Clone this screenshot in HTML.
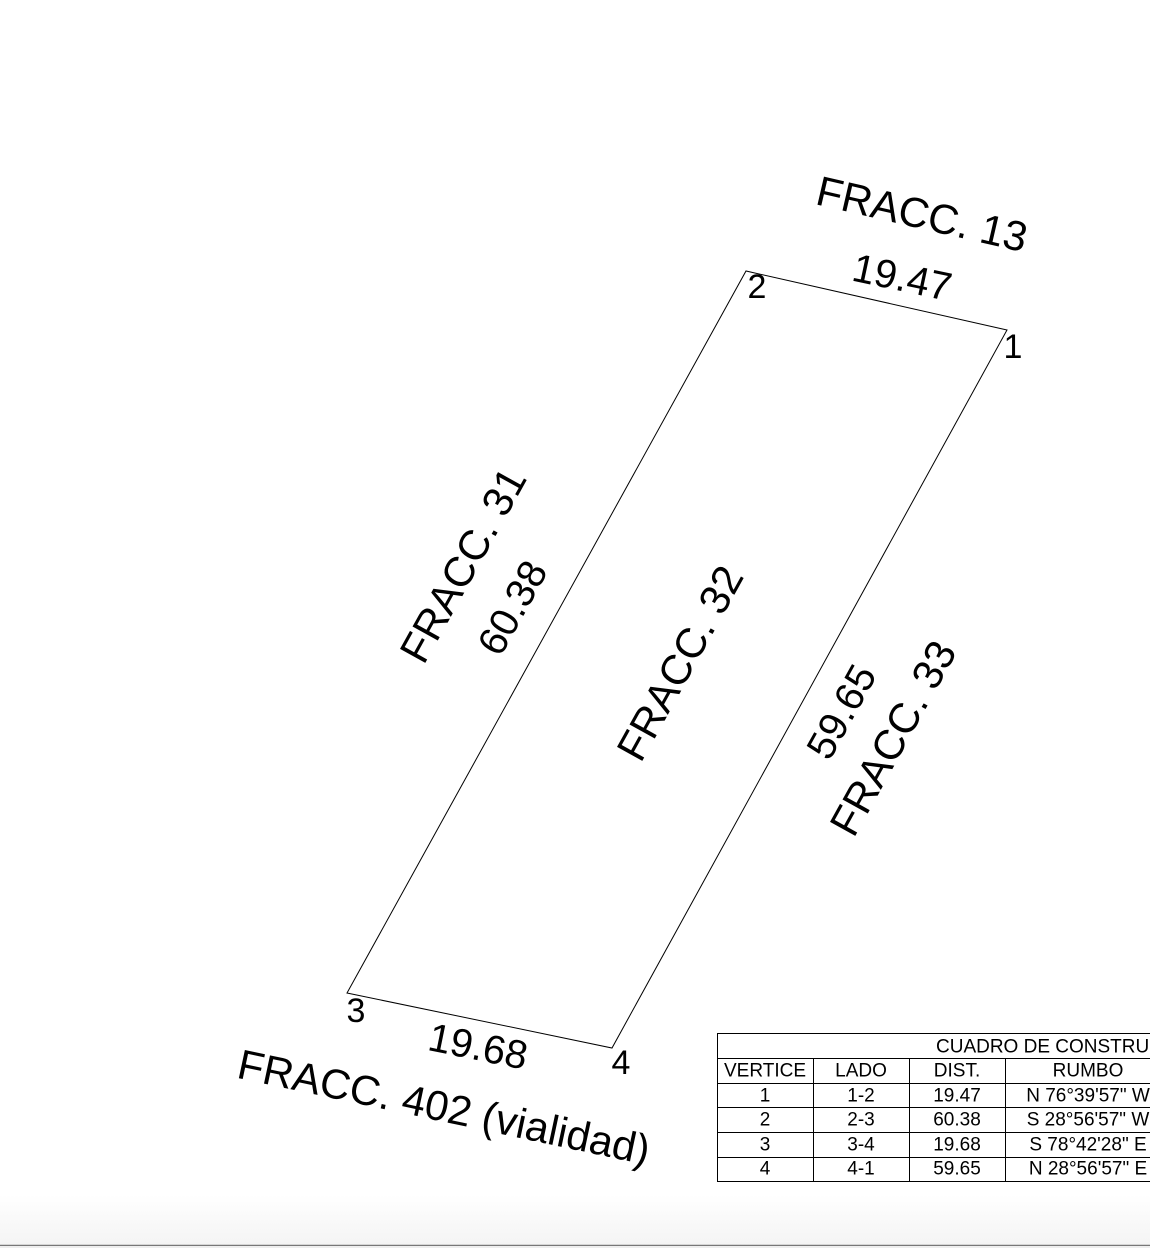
<!DOCTYPE html>
<html><head><meta charset="utf-8"><style>
html,body{margin:0;padding:0;background:#fff;}
body{width:1150px;height:1248px;overflow:hidden;position:relative;font-family:"Liberation Sans",sans-serif;}
svg{position:absolute;left:0;top:0;}
text{font-family:"Liberation Sans",sans-serif;fill:#000;}
</style></head><body>
<svg width="1150" height="1248" viewBox="0 0 1150 1248">
<defs><linearGradient id="g" x1="0" y1="0" x2="0" y2="1"><stop offset="0" stop-color="#fff"/><stop offset="1" stop-color="#f4f4f4"/></linearGradient></defs>
<rect x="0" y="1195" width="1150" height="50" fill="url(#g)"/>
<line x1="0" y1="1245.5" x2="1150" y2="1245.5" stroke="#777" stroke-width="1.5"/>
<rect x="0" y="1246" width="1150" height="2" fill="#eee"/>
<polygon points="1007,330 746,271 347,993 612,1048" fill="none" stroke="#000" stroke-width="1"/>
<g font-size="42" text-anchor="middle" dominant-baseline="central">
<text transform="translate(922,214) rotate(13)">FRACC. 13</text>
<text transform="translate(463,565) rotate(-61)">FRACC. 31</text>
<text transform="translate(680,663) rotate(-61)">FRACC. 32</text>
<text transform="translate(893,738) rotate(-61)">FRACC. 33</text>
<text transform="translate(444,1107) rotate(12)">FRACC. 402 (vialidad)</text>
</g>
<g font-size="40" text-anchor="middle" dominant-baseline="central">
<text transform="translate(902,278) rotate(12)">19.47</text>
<text transform="translate(513,608) rotate(-61)">60.38</text>
<text transform="translate(842,712) rotate(-61)">59.65</text>
<text transform="translate(478,1047) rotate(11.5)">19.68</text>
</g>
<g font-size="34" text-anchor="middle" dominant-baseline="central">
<text x="757" y="287">2</text>
<text x="1013" y="347">1</text>
<text x="356" y="1011">3</text>
<text x="621" y="1063">4</text>
</g>
<g stroke="#000" stroke-width="1" fill="none">
<rect x="717.5" y="1033.5" width="440" height="148"/>
<line x1="717" y1="1058.5" x2="1150" y2="1058.5"/>
<line x1="717" y1="1083.5" x2="1150" y2="1083.5"/>
<line x1="717" y1="1107.5" x2="1150" y2="1107.5"/>
<line x1="717" y1="1132.5" x2="1150" y2="1132.5"/>
<line x1="717" y1="1157.5" x2="1150" y2="1157.5"/>
<line x1="813.5" y1="1058" x2="813.5" y2="1181"/>
<line x1="909.5" y1="1058" x2="909.5" y2="1181"/>
<line x1="1005.5" y1="1058" x2="1005.5" y2="1181"/>
</g>
<g font-size="19" text-anchor="middle" dominant-baseline="central">
<text x="936" y="1047" text-anchor="start">CUADRO DE CONSTRUCCION</text>
<text x="765" y="1071">VERTICE</text><text x="861" y="1071">LADO</text><text x="957" y="1071">DIST.</text><text x="1088" y="1071">RUMBO</text>
<text x="765" y="1096">1</text><text x="861" y="1096">1-2</text><text x="957" y="1096">19.47</text><text x="1088" y="1096">N 76°39'57" W</text>
<text x="765" y="1120">2</text><text x="861" y="1120">2-3</text><text x="957" y="1120">60.38</text><text x="1088" y="1120">S 28°56'57" W</text>
<text x="765" y="1145">3</text><text x="861" y="1145">3-4</text><text x="957" y="1145">19.68</text><text x="1088" y="1145">S 78°42'28" E</text>
<text x="765" y="1169">4</text><text x="861" y="1169">4-1</text><text x="957" y="1169">59.65</text><text x="1088" y="1169">N 28°56'57" E</text>
</g>
</svg>
</body></html>
